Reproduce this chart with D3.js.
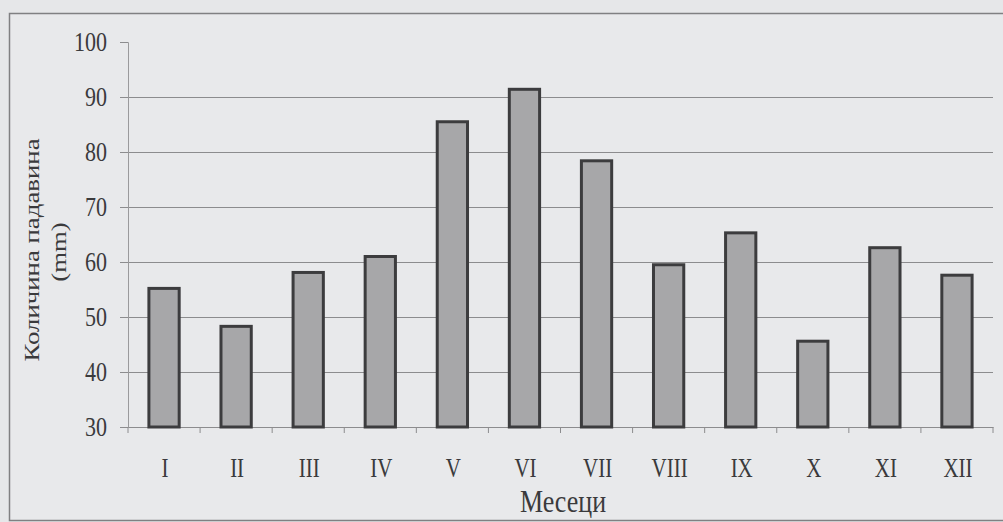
<!DOCTYPE html>
<html>
<head>
<meta charset="utf-8">
<script src="https://cdn.jsdelivr.net/npm/d3@7"></script>
<style>
  body { margin: 0; background: #e6e7e9; }
  text { font-family: "Liberation Serif", "DejaVu Serif", serif; fill: #3a3a3c; }
</style>
</head>
<body>
<div id="chart"></div>
<script>
const months = ["I", "II", "III", "IV", "V", "VI", "VII", "VIII", "IX", "X", "XI", "XII"];
const rainfall = [55.2, 48.3, 58.1, 61.0, 85.5, 91.4, 78.4, 59.5, 65.3, 45.6, 62.6, 57.6];
const yTicks = [30, 40, 50, 60, 70, 80, 90, 100];

const width = 1003, height = 522, margin = { top: 42, right: 10, bottom: 95, left: 128 };
const stretch = 1.22; // the scanned text is a bit taller than wide

const svg = d3.select("#chart")
  .append("svg")
  .attr("width", width)
  .attr("height", height);

// outer frame
svg.append("rect")
  .attr("x", 9.5).attr("y", 13.5)
  .attr("width", 1010).attr("height", 507)
  .attr("fill", "#e8e9eb")
  .attr("stroke", "#808082")
  .attr("stroke-width", 1.5);

const x = d3.scaleBand()
  .domain(months)
  .range([margin.left, 993])
  .paddingInner(0.58)
  .paddingOuter(0.29);

const y = d3.scaleLinear()
  .domain([30, 100])
  .range([427, margin.top]);

// gridlines
svg.append("g")
  .selectAll("line")
  .data(yTicks.filter(d => d > 30 && d < 100))
  .enter()
  .append("line")
  .attr("x1", margin.left)
  .attr("x2", 993)
  .attr("y1", d => y(d) + 0.5)
  .attr("y2", d => y(d) + 0.5)
  .attr("stroke", "#8c8c8e")
  .attr("stroke-width", 1.2);

// y axis
const yAxis = svg.append("g")
  .attr("transform", `translate(${margin.left}, 0)`)
  .call(d3.axisLeft(y).tickValues(yTicks).tickSize(8).tickPadding(13));
yAxis.select(".domain").attr("stroke", "#9a9a9c");
yAxis.selectAll(".tick line").attr("stroke", "#8c8c8e");
yAxis.selectAll("text")
  .attr("font-size", 22)
  .attr("fill", "#3a3a3c")
  .attr("font-family", "Liberation Serif, serif")
  .attr("transform", `scale(1, ${stretch})`);

// x axis
const step = x.step();
const xAxis = svg.append("g")
  .attr("transform", `translate(0, ${y(30)})`)
  .call(d3.axisBottom(x).tickSize(0));
xAxis.select(".domain").attr("stroke", "#8c8c8e");
xAxis.selectAll("text")
  .attr("font-size", 21)
  .attr("fill", "#3a3a3c")
  .attr("font-family", "Liberation Serif, serif")
  .attr("y", 0).attr("dy", 0)
  .attr("transform", `translate(1, 50) scale(1, ${stretch + 0.08})`);
xAxis.selectAll(".sep")
  .data(d3.range(13))
  .enter()
  .append("line")
  .attr("x1", i => margin.left + i * step)
  .attr("x2", i => margin.left + i * step)
  .attr("y1", 0).attr("y2", 6)
  .attr("stroke", "#8c8c8e");

// bars
svg.selectAll("rect.bar")
  .data(rainfall)
  .enter()
  .append("rect")
  .attr("class", "bar")
  .attr("x", (d, i) => x(months[i]))
  .attr("y", d => y(d))
  .attr("width", x.bandwidth())
  .attr("height", d => y(30) - y(d))
  .attr("fill", "#a7a7a9")
  .attr("stroke", "#3c3c3e")
  .attr("stroke-width", 3);

// axis titles
svg.append("text")
  .attr("transform", `translate(39, 250) rotate(-90) scale(${stretch}, 1)`)
  .attr("text-anchor", "middle")
  .attr("font-size", 22)
  .text("Количина падавина");
svg.append("text")
  .attr("transform", `translate(66, 252) rotate(-90) scale(${stretch}, 1)`)
  .attr("text-anchor", "middle")
  .attr("font-size", 22)
  .text("(mm)");
svg.append("text")
  .attr("transform", `translate(563, 512) scale(1, ${stretch - 0.04})`)
  .attr("text-anchor", "middle")
  .attr("font-size", 26)
  .text("Месеци");
</script>
</body>
</html>
